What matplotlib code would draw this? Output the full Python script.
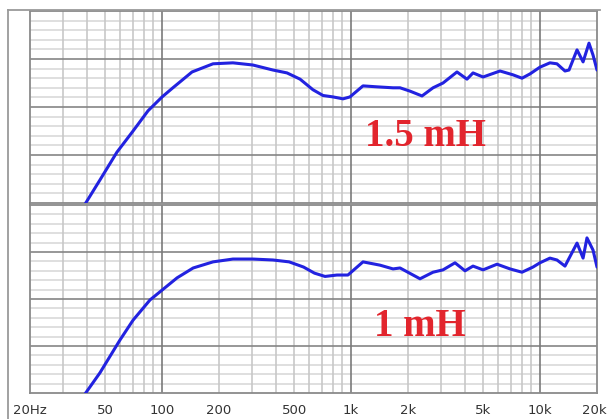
import numpy as np
import matplotlib.pyplot as plt
from matplotlib.ticker import NullLocator, NullFormatter
from matplotlib.lines import Line2D
from matplotlib.transforms import ScaledTranslation

# Frequency response data (Hz, dB)
freq_15mh = [38.6, 46.9, 57.7, 70.2, 84.2, 100, 114, 144, 186, 237, 302, 386, 458, 537,
             628, 710, 802, 906, 986, 1156, 1372, 1667, 1815, 2051, 2372, 2713, 3064,
             3632, 4103, 4416, 4990, 6136, 7190, 8021, 8846, 9980, 11274, 12280, 13540,
             14220, 15680, 16880, 18140, 19060, 20000]
db_15mh = [-0.6, 4.8, 10.6, 15.0, 19.2, 22.1, 24.0, 27.3, 29.0, 29.2, 28.75, 27.7, 27.1, 25.8,
           23.6, 22.4, 22.1, 21.7, 22.1, 24.4, 24.2, 24.0, 24.0, 23.3, 22.3, 24.0, 25.0,
           27.3, 25.8, 27.1, 26.25, 27.5, 26.7, 26.0, 26.9, 28.3, 29.2, 29.0, 27.5,
           27.7, 31.9, 29.4, 33.3, 30.8, 27.7]

freq_1mh = [37.7, 46.9, 59.9, 70.2, 86.3, 100, 120, 146, 186, 237, 302, 386, 470, 560,
            640, 728, 842, 962, 1156, 1422, 1667, 1815, 2315, 2713, 3064, 3546, 4006,
            4416, 4990, 5916, 6934, 8021, 9172, 9980, 11274, 12280, 13540, 15680,
            16880, 17700, 19060, 20000]
db_1mh = [-1.1, 4.3, 11.3, 15.5, 19.8, 21.9, 24.5, 26.6, 27.9, 28.5, 28.5, 28.3, 27.9, 26.8,
          25.5, 24.8, 25.1, 25.1, 27.9, 27.2, 26.4, 26.6, 24.3, 25.7, 26.2, 27.7, 26.0,
          27.0, 26.2, 27.4, 26.4, 25.7, 26.8, 27.7, 28.7, 28.3, 27.0, 31.9,
          28.7, 33.0, 30.4, 26.8]

label_freqs = [20, 50, 100, 200, 500, 1000, 2000, 5000, 10000, 20000]
label_texts = ["20Hz", "50", "100", "200", "500", "1k", "2k", "5k", "10k", "20k"]

decade_freqs = [100, 1000, 10000]
minor_freqs = [m * d for d in (10, 100, 1000) for m in range(2, 10) if m * d > 20]
minor_freqs = [f for f in minor_freqs if f not in decade_freqs and f < 20000]

W, H = 607, 419
fig = plt.figure(figsize=(W / 100, H / 100), dpi=100)

def px_axes(x0, y0, x1, y1):
    return fig.add_axes([x0 / W, 1 - y1 / H, (x1 - x0) / W, (y1 - y0) / H])

ax_top = px_axes(30, 11, 597, 203)
ax_bot = px_axes(30, 205, 597, 393)

for ax, fr, db in ((ax_top, freq_15mh, db_15mh), (ax_bot, freq_1mh, db_1mh)):
    ax.set_xscale("log")
    ax.set_xlim(20, 20000)
    ax.set_ylim(0, 40)
    ax.xaxis.set_minor_locator(NullLocator())
    ax.xaxis.set_minor_formatter(NullFormatter())
    ax.set_yticks([])
    # horizontal grid
    for y in np.arange(2, 40, 2):
        if y % 10 == 0:
            ax.axhline(y, color="#858585", lw=1.2, zorder=1)
        else:
            ax.axhline(y, color="#dcdcdc", lw=1.3, zorder=0.5)
    # vertical grid
    for f in minor_freqs:
        ax.axvline(f, color="#c8c8c8", lw=1.2, zorder=0.8)
    for f in decade_freqs:
        ax.axvline(f, color="#7a7a7a", lw=1.2, zorder=1)
    for s in ax.spines.values():
        s.set_color("#8a8a8a")
        s.set_linewidth(1.3)
    ax.plot(fr, db, color="#2222e0", lw=2.2, zorder=3,
            solid_joinstyle="round", solid_capstyle="round")

ax_top.set_xticks([])
ax_bot.set_xticks(label_freqs, label_texts)
ax_bot.tick_params(axis="x", length=0, pad=8, labelsize=9.5, labelcolor="#333333")
# nudge the last label so it stays inside the figure
last = ax_bot.get_xticklabels()[-1]
last.set_transform(last.get_transform() + ScaledTranslation(-3 / 100, 0, fig.dpi_scale_trans))

# outer frame lines
fig.add_artist(Line2D([8 / W, 8 / W], [0, 1 - 10 / H], color="#9a9a9a", lw=1.3))
fig.add_artist(Line2D([8 / W, 600 / W], [1 - 10 / H, 1 - 10 / H], color="#9a9a9a", lw=1.3))

red = "#e2252d"
fig.text(425 / W, 1 - 146.5 / H, "1.5 mH", color=red, fontsize=28, fontweight="bold",
         family="Liberation Serif", ha="center", va="baseline")
fig.text(420 / W, 1 - 336.5 / H, "1 mH", color=red, fontsize=28, fontweight="bold",
         family="Liberation Serif", ha="center", va="baseline")

fig.savefig("out.png", dpi=100)
